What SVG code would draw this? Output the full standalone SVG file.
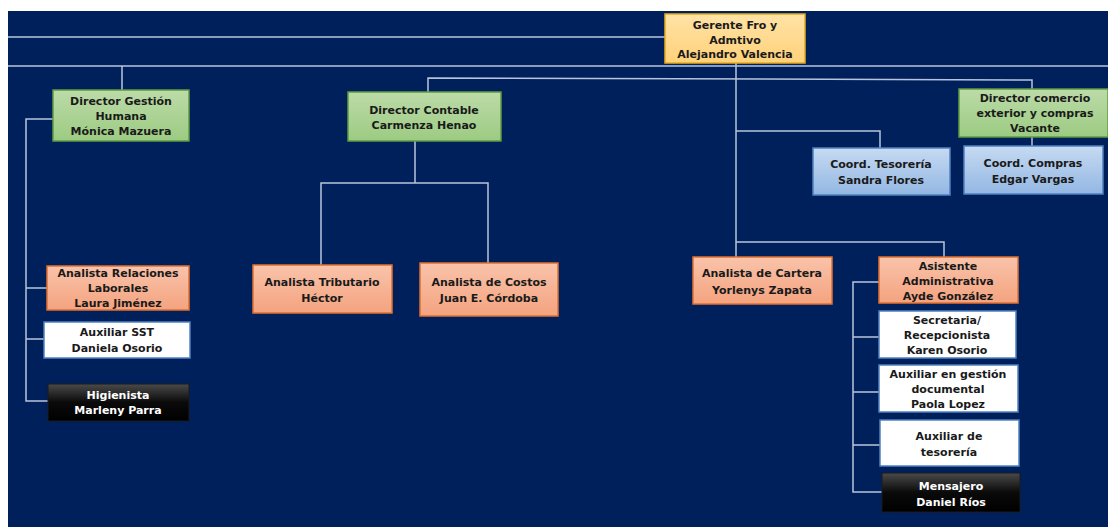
<svg xmlns="http://www.w3.org/2000/svg" width="1108" height="527" viewBox="0 0 1108 527">
<defs>
<linearGradient id="gG" x1="0" y1="0" x2="0" y2="1"><stop offset="0" stop-color="#BCDBA8"/><stop offset="1" stop-color="#9CCB82"/></linearGradient>
<linearGradient id="gO" x1="0" y1="0" x2="0" y2="1"><stop offset="0" stop-color="#F9C3AA"/><stop offset="1" stop-color="#F4A37F"/></linearGradient>
<linearGradient id="gY" x1="0" y1="0" x2="0" y2="1"><stop offset="0" stop-color="#FFE3A6"/><stop offset="1" stop-color="#FFD17A"/></linearGradient>
<linearGradient id="gB" x1="0" y1="0" x2="0" y2="1"><stop offset="0" stop-color="#C6DAF2"/><stop offset="1" stop-color="#93B7E3"/></linearGradient>
<linearGradient id="gK" x1="0" y1="0" x2="0" y2="1"><stop offset="0" stop-color="#4A4A4A"/><stop offset="0.5" stop-color="#0A0A0A"/><stop offset="1" stop-color="#000000"/></linearGradient>
</defs>
<style>
.t{font-family:"DejaVu Sans","Liberation Sans",sans-serif;font-weight:bold;font-size:11px;fill:#1A1A1A;text-anchor:middle}
.w{fill:#FFFFFF}
.g{fill:url(#gG);stroke:#5F9B42;stroke-width:1.5}
.o{fill:url(#gO);stroke:#E0702E;stroke-width:1.5}
.y{fill:url(#gY);stroke:#E8AA1E;stroke-width:1.5}
.b{fill:url(#gB);stroke:#4F81BD;stroke-width:1.5}
.wb{fill:#FFFFFF;stroke:#4F81BD;stroke-width:1.5}
.k{fill:url(#gK);stroke:#1A1A1A;stroke-width:1}
.c{fill:none;stroke:#B8C4DC;stroke-width:1.5}
</style>
<rect x="0" y="0" width="1108" height="527" fill="#FFFFFF"/>
<rect x="8" y="11" width="1100" height="516" fill="#00205C"/>
<g id="connectors">
<path class="c" d="M8 37H665"/>
<path class="c" d="M8 66H1108"/>
<path class="c" d="M122 66V90"/>
<path class="c" d="M736 63V257M736 242H944V257"/>
<path class="c" d="M428 92V78L1032 80V89"/>
<path class="c" d="M736 131H880V148"/>
<path class="c" d="M1032 137V146"/>
<path class="c" d="M53 119H26V401H48M26 288H47M26 339H44"/>
<path class="c" d="M415 141V183M321 265V183H488V263"/>
<path class="c" d="M879 282H853V492H882M853 337H879M853 392H879M853 445H880"/>
</g>
<g id="gerente"><rect class="y" x="665" y="14" width="140" height="49"/><text class="t" x="735" y="29">Gerente Fro y</text><text class="t" x="735" y="44">Admtivo</text><text class="t" x="735" y="58">Alejandro Valencia</text></g>
<g id="dir-gh"><rect class="g" x="53" y="90" width="136" height="51"/><text class="t" x="121" y="105">Director Gestión</text><text class="t" x="121" y="120">Humana</text><text class="t" x="121" y="135">Mónica Mazuera</text></g>
<g id="dir-contable"><rect class="g" x="348" y="92" width="153" height="49"/><text class="t" x="424" y="114">Director Contable</text><text class="t" x="424" y="129">Carmenza Henao</text></g>
<g id="dir-comercio"><rect class="g" x="959" y="89" width="149" height="48"/><text class="t" x="1035" y="102">Director comercio</text><text class="t" x="1035" y="117">exterior y compras</text><text class="t" x="1035" y="132">Vacante</text></g>
<g id="coord-tesoreria"><rect class="b" x="813" y="148" width="137" height="47"/><text class="t" x="881" y="168">Coord. Tesorería</text><text class="t" x="881" y="184">Sandra Flores</text></g>
<g id="coord-compras"><rect class="b" x="964" y="146" width="139" height="48"/><text class="t" x="1033" y="167">Coord. Compras</text><text class="t" x="1033" y="183">Edgar Vargas</text></g>
<g id="analista-rl"><rect class="o" x="47" y="266" width="142" height="44"/><text class="t" x="118" y="277">Analista Relaciones</text><text class="t" x="118" y="292">Laborales</text><text class="t" x="118" y="307">Laura Jiménez</text></g>
<g id="aux-sst"><rect class="wb" x="44" y="322" width="146" height="36"/><text class="t" x="117" y="336">Auxiliar SST</text><text class="t" x="117" y="352">Daniela Osorio</text></g>
<g id="higienista"><rect class="k" x="48" y="384" width="141" height="37"/><text class="t w" x="118" y="399">Higienista</text><text class="t w" x="118" y="414">Marleny Parra</text></g>
<g id="analista-trib"><rect class="o" x="253" y="265" width="139" height="48"/><text class="t" x="322" y="286">Analista Tributario</text><text class="t" x="322" y="302">Héctor</text></g>
<g id="analista-costos"><rect class="o" x="420" y="263" width="138" height="53"/><text class="t" x="489" y="286">Analista de Costos</text><text class="t" x="489" y="302">Juan E. Córdoba</text></g>
<g id="analista-cartera"><rect class="o" x="693" y="257" width="139" height="47"/><text class="t" x="762" y="277">Analista de Cartera</text><text class="t" x="762" y="294">Yorlenys Zapata</text></g>
<g id="asistente"><rect class="o" x="879" y="257" width="139" height="46"/><text class="t" x="948" y="270">Asistente</text><text class="t" x="948" y="285">Administrativa</text><text class="t" x="948" y="300">Ayde González</text></g>
<g id="secretaria"><rect class="wb" x="879" y="311" width="137" height="47"/><text class="t" x="947" y="324">Secretaria/</text><text class="t" x="947" y="339">Recepcionista</text><text class="t" x="947" y="354">Karen Osorio</text></g>
<g id="aux-gestion"><rect class="wb" x="879" y="365" width="139" height="47"/><text class="t" x="948" y="378">Auxiliar en gestión</text><text class="t" x="948" y="393">documental</text><text class="t" x="948" y="408">Paola Lopez</text></g>
<g id="aux-tesoreria"><rect class="wb" x="880" y="420" width="139" height="46"/><text class="t" x="949" y="440">Auxiliar de</text><text class="t" x="949" y="456">tesorería</text></g>
<g id="mensajero"><rect class="k" x="882" y="473" width="138" height="39"/><text class="t w" x="951" y="490">Mensajero</text><text class="t w" x="951" y="506">Daniel Ríos</text></g>
</svg>
